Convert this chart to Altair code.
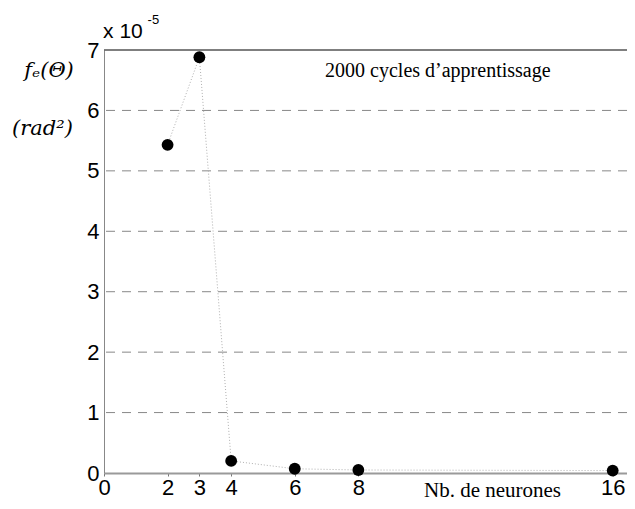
import altair as alt
import pandas as pd

# data (values in units of 1e-5 rad^2)
neurons = [2, 3, 4, 6, 8, 16]
fe_values = [5.43, 6.88, 0.20, 0.07, 0.05, 0.04]
x_ticks = [0, 2, 3, 4, 6, 8, 16]
y_ticks = [0, 1, 2, 3, 4, 5, 6, 7]
grid_levels = [1, 2, 3, 4, 5, 6]

df = pd.DataFrame({"n": neurons, "fe": fe_values})
grid_df = pd.DataFrame({"g": grid_levels})
top_df = pd.DataFrame({"t": [7]})

title_df = pd.DataFrame({"x": [10.5], "y": [6.66], "label": ["2000 cycles d\u2019apprentissage"]})
mult_df = pd.DataFrame({"x": [-0.03], "y": [7.29], "label": ["x 10"]})
exp_df = pd.DataFrame({"x": [1.37], "y": [7.5], "label": ["-5"]})
ylab_df = pd.DataFrame({"x": [-0.95, -0.98], "y": [6.66, 5.7], "label": ["f\u2091(\u0398)", "(rad\u00b2)"]})

XMAX = 16.45
xscale = alt.Scale(domain=[0, XMAX], nice=False, zero=False)
yscale = alt.Scale(domain=[0, 7], nice=False)

grid = alt.Chart(grid_df).mark_rule(color="#888888", strokeDash=[9, 7], strokeWidth=1).encode(
    y=alt.Y("g:Q", scale=yscale)
)
top = alt.Chart(top_df).mark_rule(color="#555555", strokeWidth=1.5).encode(
    y=alt.Y("t:Q", scale=yscale)
)

line = alt.Chart(df).mark_line(color="#b0b0b0", strokeDash=[1, 2], strokeWidth=1).encode(
    x=alt.X("n:Q", scale=xscale,
            axis=alt.Axis(values=x_ticks, title="Nb. de neurones", grid=False,
                          labelFont="Liberation Sans", labelFontSize=22, labelColor="black",
                          labelPadding=1, tickSize=3, tickColor="#777777",
                          domainColor="#9a9a9a", domainWidth=2,
                          titleFont="Liberation Serif", titleFontSize=21, titleFontWeight="normal",
                          titleColor="black", titleX=388, titleY=23, titleBaseline="alphabetic",
                          titleAlign="center", labelFlush=False)),
    y=alt.Y("fe:Q", scale=yscale,
            axis=alt.Axis(values=y_ticks, grid=False, title=None, format="d",
                          labelFont="Liberation Sans", labelFontSize=22, labelColor="black",
                          labelPadding=5, tickSize=0,
                          domainColor="#888888", domainWidth=1)),
)

points = alt.Chart(df).mark_circle(color="black", opacity=1, size=140).encode(
    x=alt.X("n:Q", scale=xscale),
    y=alt.Y("fe:Q", scale=yscale),
)

ann_center = alt.Chart(title_df).mark_text(
    align="center", baseline="middle", font="Liberation Serif", fontSize=20, color="black"
).encode(
    x=alt.X("x:Q", scale=xscale),
    y=alt.Y("y:Q", scale=yscale),
    text="label:N",
)
ann_left = alt.Chart(mult_df).mark_text(
    align="left", baseline="middle", font="Liberation Sans", fontSize=21, color="black"
).encode(
    x=alt.X("x:Q", scale=xscale),
    y=alt.Y("y:Q", scale=yscale),
    text="label:N",
)
exp = alt.Chart(exp_df).mark_text(
    align="left", baseline="middle", font="Liberation Sans", fontSize=13, color="black"
).encode(
    x=alt.X("x:Q", scale=xscale),
    y=alt.Y("y:Q", scale=yscale),
    text="label:N",
)
ylab = alt.Chart(ylab_df).mark_text(
    align="right", baseline="middle", font="DejaVu Serif", fontStyle="italic",
    fontSize=21, color="black"
).encode(
    x=alt.X("x:Q", scale=xscale),
    y=alt.Y("y:Q", scale=yscale),
    text="label:N",
)

chart = alt.layer(grid, top, line, points, ann_center, ann_left, exp, ylab).properties(
    width=523,
    height=423,
    padding={"left": 96, "top": 42, "right": 0, "bottom": 28},
    autosize=alt.AutoSizeParams(type="none"),
    background="white",
).configure_view(stroke=None)

chart.save("out.html", embed_options={"renderer": "svg", "actions": False})
